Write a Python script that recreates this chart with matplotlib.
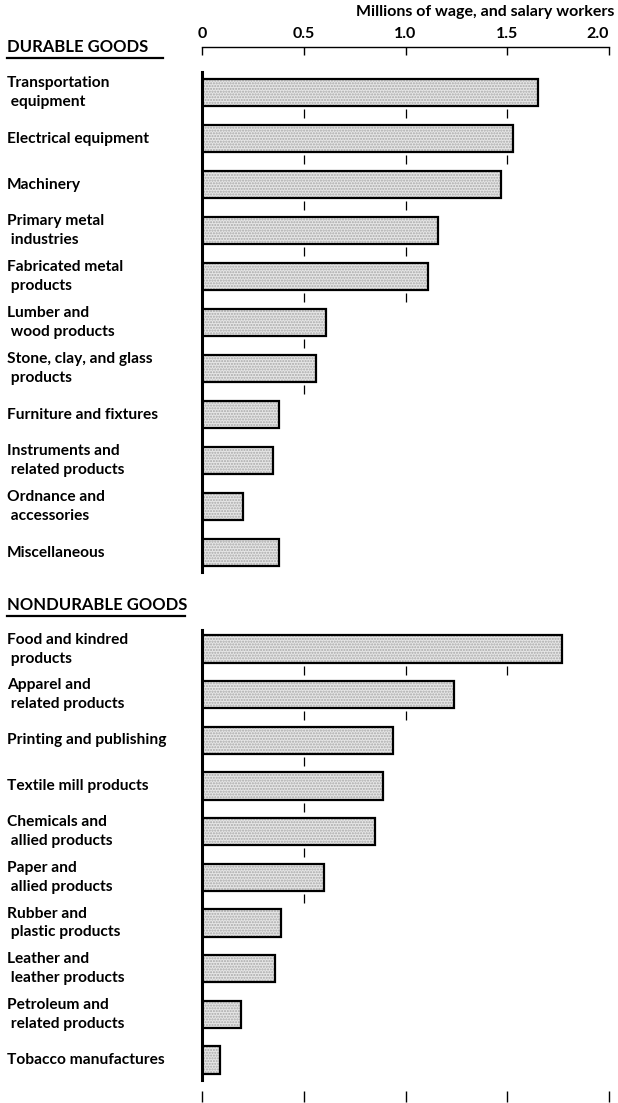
import numpy as np
import matplotlib.pyplot as plt
from matplotlib.transforms import blended_transform_factory

W, H = 618, 1103

# data, millions of wage and salary workers
durable = ["Transportation\n equipment", "Electrical equipment", "Machinery",
           "Primary metal\n industries", "Fabricated metal\n products",
           "Lumber and\n wood products", "Stone, clay, and glass\n products",
           "Furniture and fixtures", "Instruments and\n related products",
           "Ordnance and\n accessories", "Miscellaneous"]
durable_vals = [1.65, 1.53, 1.47, 1.16, 1.11, 0.61, 0.56, 0.38, 0.35, 0.20, 0.38]

nondurable = ["Food and kindred\n products", "Apparel and\n related products",
              "Printing and publishing", "Textile mill products",
              "Chemicals and\n allied products", "Paper and\n allied products",
              "Rubber and\n plastic products", "Leather and\n leather products",
              "Petroleum and\n related products", "Tobacco manufactures"]
nondurable_vals = [1.77, 1.24, 0.94, 0.89, 0.85, 0.60, 0.39, 0.36, 0.19, 0.09]

ticks = [0, 0.5, 1.0, 1.5, 2.0]
tick_labels = ["0", "0.5", "1.0", "1.5", "2.0"]
grid_marks = [0.5, 1.0, 1.5]

FONT = dict(family="Lato", weight="bold")


def box(x0, y0, x1, y1):
    # pixel box (top-left origin) -> figure fraction rect
    return [x0 / W, 1 - y1 / H, (x1 - x0) / W, (y1 - y0) / H]


def panel(fig, rect, labels, vals, top_pad, bot_pad):
    ax = fig.add_axes(rect)
    n = len(vals)
    y = np.arange(n)
    # stipple fill then outline
    ax.barh(y, vals, height=0.6, color="#e6e6e6", edgecolor="#a8a8a8",
            hatch="......", linewidth=0)
    ax.barh(y, vals, height=0.6, color="none", edgecolor="black", linewidth=1.6)
    # short grid marks in the gaps below each bar
    for i, v in enumerate(vals):
        for g in grid_marks:
            if g < v:
                ax.vlines(g, i + 0.36, i + 0.56, color="black", linewidth=0.9)
    ax.set_xlim(0, 2.0)
    ax.set_ylim(n - 1 + bot_pad, -top_pad)
    for s in ["top", "right", "bottom"]:
        ax.spines[s].set_visible(False)
    ax.spines["left"].set_linewidth(2.2)
    ax.set_xticks([])
    ax.set_yticks([])
    tr = blended_transform_factory(fig.transFigure, ax.transData)
    for i, lab in enumerate(labels):
        ax.text(7 / W, i, lab, transform=tr, ha="left", va="center",
                fontsize=11.2, linespacing=1.45, **FONT)
    return ax


fig = plt.figure(figsize=(W / 100, H / 100), dpi=100)

# top scale
top = fig.add_axes(box(202, 47, 609, 60))
top.set_xlim(0, 2.0)
top.set_ylim(0, 1)
for s in ["left", "right", "bottom"]:
    top.spines[s].set_visible(False)
top.spines["top"].set_linewidth(1.0)
top.xaxis.set_ticks_position("top")
top.set_xticks(ticks)
top.set_xticklabels(tick_labels, fontsize=11.5, **FONT)
top.get_xticklabels()[-1].set_horizontalalignment("right")
top.tick_params(axis="x", direction="in", length=6, width=1.0, pad=4)
top.set_yticks([])
top.patch.set_alpha(0)

fig.text(614 / W, 1 - 12 / H, "Millions of wage, and salary workers",
         ha="right", va="center", fontsize=11.5, **FONT)

panel(fig, box(202, 72, 609, 572), durable, durable_vals, 0.45, 0.42)
panel(fig, box(202, 630, 609, 1080), nondurable, nondurable_vals, 0.42, 0.44)

# section headings
for text, yc, x1 in [("DURABLE GOODS", 47, 163), ("NONDURABLE GOODS", 605, 185)]:
    fig.text(7 / W, 1 - yc / H, text, ha="left", va="center",
             fontsize=12, **FONT)
    fig.add_artist(plt.Line2D([7 / W, x1 / W], [1 - (yc + 11) / H] * 2,
                              color="black", linewidth=1.6))

# bottom scale, ticks only
bot = fig.add_axes(box(202, 1090, 609, 1102))
bot.set_xlim(0, 2.0)
for s in bot.spines.values():
    s.set_visible(False)
bot.set_xticks(ticks)
bot.set_xticklabels([])
bot.tick_params(axis="x", direction="in", length=8, width=1.0)
bot.set_yticks([])
bot.patch.set_alpha(0)

fig.savefig("out.png", dpi=100)
